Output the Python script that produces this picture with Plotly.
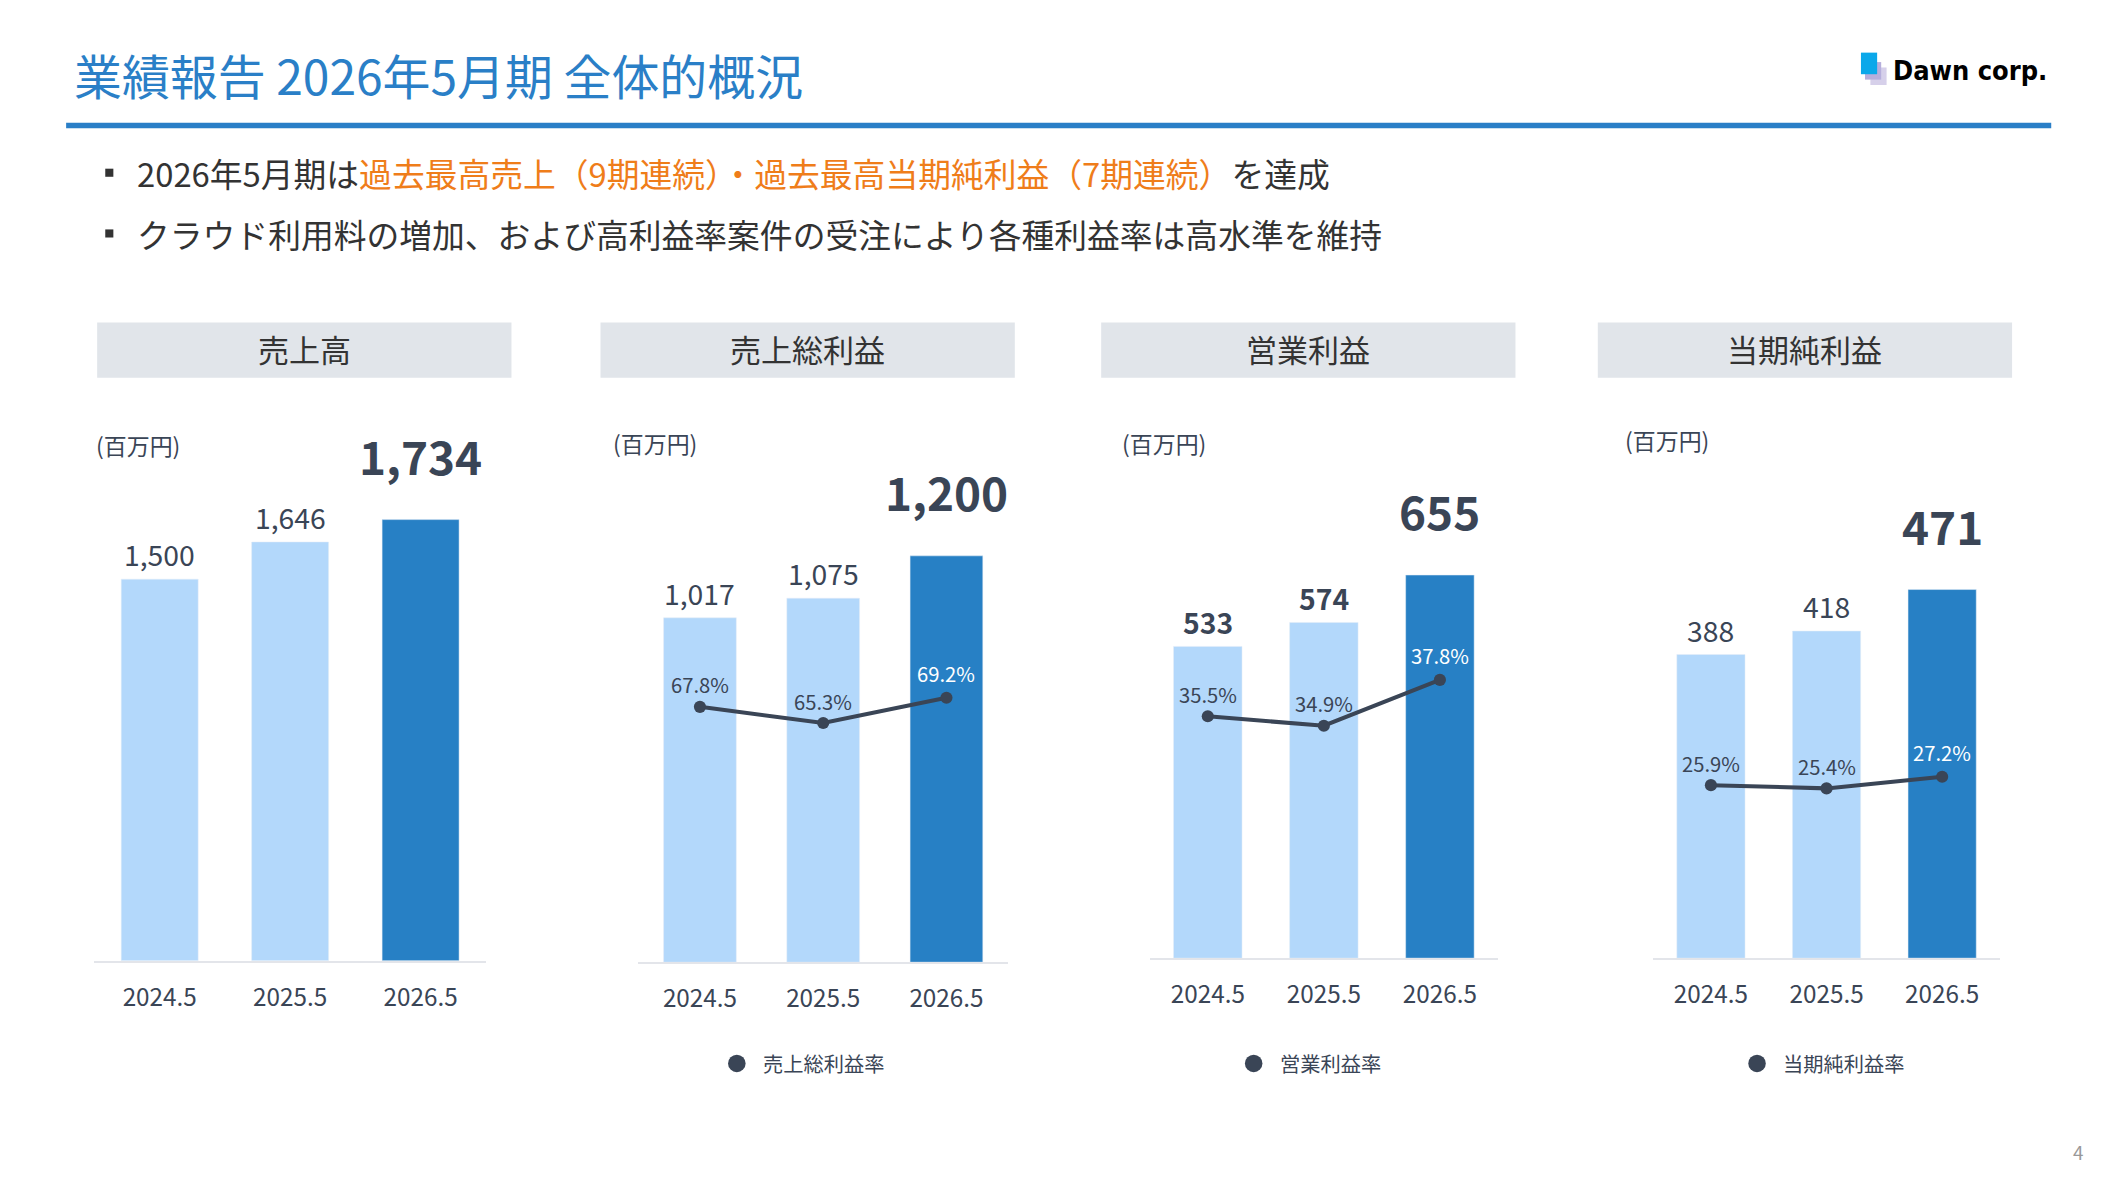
import plotly.graph_objects as go

# data
years = ["2024.5", "2025.5", "2026.5"]
panel_titles = ["売上高", "売上総利益", "営業利益", "当期純利益"]
sales = [1500, 1646, 1734]
gross_profit = [1017, 1075, 1200]
op_profit = [533, 574, 655]
net_profit = [388, 418, 471]
gross_margin = [67.8, 65.3, 69.2]
op_margin = [35.5, 34.9, 37.8]
net_margin = [25.9, 25.4, 27.2]
legend_names = [None, "売上総利益率", "営業利益率", "当期純利益率"]

W = 1568.0
S = 2116 / W                 # display px -> real px
H = 1190 / S
OFF = 8 / S                  # page body margin, in display px
FONT = "Noto Sans CJK JP"
DARK = "#3a4556"
LIGHT = "#b3d8fb"
BLUE = "#2780c5"


def px(x):
    return (x - OFF) / W


def py(y):
    return 1 - (y - OFF) / H


def fs(v):
    return v * S


panels = [
    dict(vals=sales, rate=None, ax=(70, 360), base=712, head=(72, 379), unit=(70, 330),
         yr=(0, 2185), rr=None, bold_small=False),
    dict(vals=gross_profit, rate=gross_margin, ax=(473, 747), base=713, head=(445, 752), unit=(453, 328),
         yr=(0, 1646), rr=(28.4, 114.4), bold_small=False, leg=546),
    dict(vals=op_profit, rate=op_margin, ax=(852, 1110), base=710, head=(816, 1123), unit=(830, 328),
         yr=(0, 946), rr=(20.2, 55.2), bold_small=True, leg=929),
    dict(vals=net_profit, rate=net_margin, ax=(1225, 1482), base=710, head=(1184, 1491), unit=(1203, 326),
         yr=(0, 707), rr=(-0.8, 84.6), bold_small=False, leg=1302),
]
TOP = 300

fig = go.Figure()
shapes, annos = [], []
layout = {}


def paper_text(x, y, text, size, color=DARK, xanchor="center", family=FONT):
    annos.append(dict(x=px(x), y=py(y), xref="paper", yref="paper", xanchor=xanchor, yanchor="middle",
                      text=text, showarrow=False, font=dict(size=fs(size), color=color, family=family)))


for i, p in enumerate(panels):
    xn = i + 1
    xa = "x" if xn == 1 else f"x{xn}"
    ya = "y" if i == 0 else f"y{2 * i + 1}"
    yb = f"y{2 * i + 2}"
    layout["xaxis" + ("" if xn == 1 else str(xn))] = dict(
        type="category", domain=[px(p["ax"][0]), px(p["ax"][1])], anchor=ya, range=[-0.5, 2.5],
        showgrid=False, zeroline=False, showline=True, linecolor="#e3e5ea", linewidth=2,
        ticks="", tickfont=dict(size=fs(18), color=DARK, family=FONT), ticklabelstandoff=int(fs(11)))
    dom = [py(p["base"]), py(TOP)]
    layout["yaxis" + ("" if i == 0 else str(2 * i + 1))] = dict(domain=dom, anchor=xa, range=list(p["yr"]),
                                                                visible=False)
    layout["yaxis" + str(2 * i + 2)] = dict(domain=dom, anchor=xa, overlaying=ya, side="right",
                                            range=list(p["rr"]) if p["rr"] else [0, 1], visible=False)
    fig.add_trace(go.Bar(x=years, y=p["vals"], xaxis=xa, yaxis=ya, marker=dict(color=[LIGHT, LIGHT, BLUE]),
                         showlegend=False, hoverinfo="skip"))
    for k in range(3):
        big = k == 2
        annos.append(dict(x=k, y=p["vals"][k], xref=xa, yref=ya, xanchor="center", yanchor="bottom",
                          yshift=fs(22) if big else fs(2),
                          text=f"<b>{p['vals'][k]:,}</b>" if (big or p["bold_small"]) else f"{p['vals'][k]:,}",
                          showarrow=False, font=dict(size=fs(34) if big else fs(21), color=DARK, family=FONT)))
    if p["rate"]:
        fig.add_trace(go.Scatter(x=years, y=p["rate"], xaxis=xa, yaxis=yb, mode="lines+markers",
                                 line=dict(color=DARK, width=fs(3)), marker=dict(size=fs(9), color=DARK),
                                 showlegend=False, hoverinfo="skip"))
        for k in range(3):
            annos.append(dict(x=k, y=p["rate"][k], xref=xa, yref=yb, xanchor="center", yanchor="bottom",
                              yshift=fs(6) if k == 2 else fs(4), text=f"{p['rate'][k]:.1f}%", showarrow=False,
                              font=dict(size=fs(15), color="white" if k == 2 else DARK, family=FONT)))
        lx = p["leg"]
        shapes.append(dict(type="circle", xref="paper", yref="paper", x0=px(lx - 6.5), x1=px(lx + 6.5),
                           y0=py(788 + 6.5), y1=py(788 - 6.5), fillcolor=DARK, line=dict(width=0)))
        paper_text(lx + 18, 788, legend_names[i], 15, xanchor="left")
    # header box
    h0, h1 = p["head"]
    shapes.append(dict(type="rect", xref="paper", yref="paper", x0=px(h0), x1=px(h1), y0=py(280), y1=py(239),
                       fillcolor="#e1e5ea", line=dict(width=0), layer="below"))
    paper_text((h0 + h1) / 2, 258, panel_titles[i], 23, color="#333333")
    paper_text(p["unit"][0], p["unit"][1], "(百万円)", 17, xanchor="left")

# title, rule, bullets
paper_text(53, 55, "業績報告 2026年5月期 全体的概況", 35.5, color="#2a7fc7", xanchor="left")
shapes.append(dict(type="line", xref="paper", yref="paper", x0=px(49), x1=px(1520), y0=py(93), y1=py(93),
                   line=dict(color="#2a7fc7", width=fs(4))))
ORANGE = "#ef7d1a"
bullets = [
    f"2026年5月期は<span style='color:{ORANGE}'>過去最高売上（9期連続）・過去最高当期純利益（7期連続）</span>を達成",
    "クラウド利用料の増加、および高利益率案件の受注により各種利益率は高水準を維持",
]
for j, b in enumerate(bullets):
    yy = 128 + 45 * j
    shapes.append(dict(type="rect", xref="paper", yref="paper", x0=px(78), x1=px(84), y0=py(yy + 3),
                       y1=py(yy - 3), fillcolor="#333333", line=dict(width=0)))
    paper_text(100, yy, b, 24.3, color="#333333", xanchor="left")

# logo
shapes.append(dict(type="rect", xref="paper", yref="paper", x0=px(1386), x1=px(1398), y0=py(63), y1=py(50),
                   fillcolor="#d6d0ea", line=dict(width=0)))
shapes.append(dict(type="rect", xref="paper", yref="paper", x0=px(1382), x1=px(1394), y0=py(59), y1=py(46),
                   fillcolor="#b6aedc", line=dict(width=0)))
shapes.append(dict(type="rect", xref="paper", yref="paper", x0=px(1379), x1=px(1391), y0=py(55), y1=py(39),
                   fillcolor="#0aa8ea", line=dict(width=0)))
paper_text(1518, 52, "<b>Dawn corp.</b>", 20, color="black", xanchor="right", family="DejaVu Sans Condensed")
paper_text(1540, 853, "4", 14, color="#999999")

fig.update_layout(width=2116, height=1190, margin=dict(l=0, r=0, t=0, b=0), plot_bgcolor="white",
                  paper_bgcolor="white", bargap=0.41, shapes=shapes, annotations=annos,
                  font=dict(family=FONT), **layout)
fig.write_html("out.html")
